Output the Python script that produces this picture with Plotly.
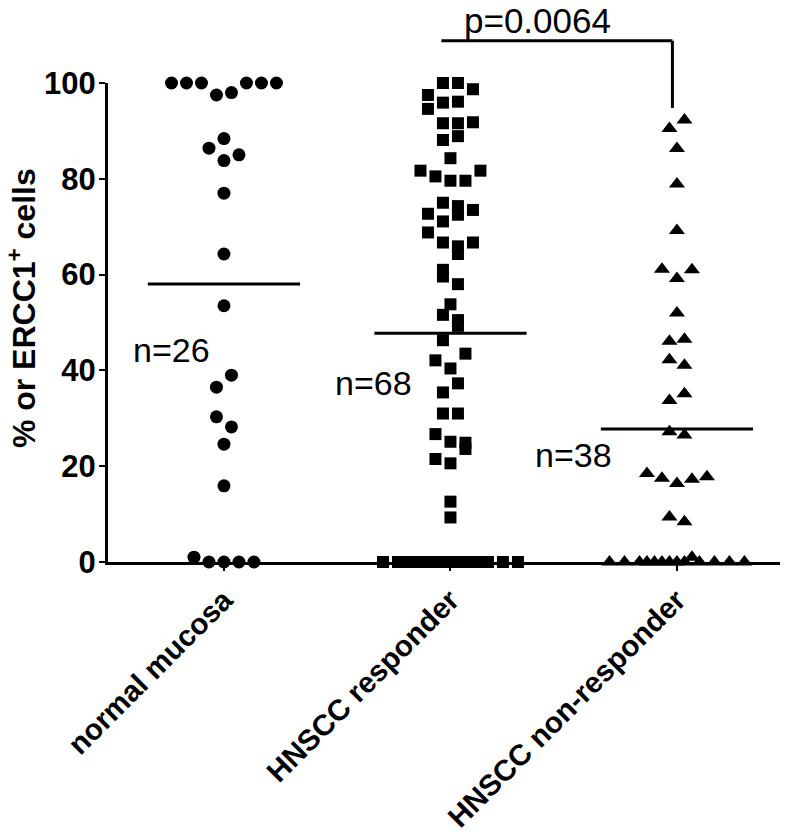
import numpy as np
import plotly.graph_objects as go

categories = ["normal mucosa", "HNSCC responder", "HNSCC non-responder"]
n_labels = ["n=26", "n=68", "n=38"]
y_ticks = [0, 20, 40, 60, 80, 100]
p_label = "p=0.0064"

# % ERCC1+ cells per sample
normal_values = [100, 100, 100, 100, 100, 100, 97.5, 98.0, 88.4, 86.4, 85.0, 83.8,
                 77.0, 64.3, 53.5, 39.0, 36.5, 30.3, 28.2, 24.6, 15.9, 1.0,
                 0, 0, 0, 0]
responder_values = [100, 100, 98.7, 97.5, 95.9, 96.1, 94.6, 91.6, 91.6, 91.8,
                    88.1, 88.9, 84.3, 81.7, 80.5, 79.6, 79.6, 81.7, 75.0, 74.3,
                    72.5, 73.5, 72.7, 71.1, 68.8, 66.7, 65.9, 64.3, 66.7, 61.0,
                    59.6, 58.0, 53.8, 51.6, 50.5, 49.3, 46.3, 43.5, 42.1, 40.4,
                    37.3, 35.4, 31.0, 31.0, 26.7, 25.1, 24.9, 23.6, 21.5, 20.6,
                    12.6, 9.3] + [0] * 16
nonresp_values = [92.3, 90.5, 86.3, 78.9, 69.2, 61.1, 61.0, 59.2, 52.0, 46.1,
                  46.5, 42.2, 41.1, 35.1, 33.7, 27.2, 26.5, 18.5, 17.5, 16.4,
                  17.3, 17.8, 9.4, 8.4] + [0] * 9 + [1.0] + [0] * 4

# column-scatter spread, in half marker steps
normal_spread = [-7, -5, -3, 3, 5, 7, -1, 1, 0, -2, 2, 0,
                 0, 0, 0, 1, -1, -1, 1, 0, 0, -4,
                 -2, 0, 2, 4]
responder_spread = [-1, 1, 3, -3, -1, 1, -3, -1, 1, 3,
                    -1, 1, 0, -4, -2, 0, 2, 4, -1, 1,
                    1, 3, -3, -1, -3, -1, 1, 1, 3, -1,
                    -1, 1, 0, -1, 1, 1, -1, 2, -2, 0,
                    1, -1, -1, 1, -2, 0, 2, 2, -2, 0,
                    0, 0] + [-9, -7, -6, -5, -4, -3, -2, -1, 0, 1, 2, 3, 4, 5, 7, 9]
nonresp_spread = [1, -1, 0, 0, 0, -2, 2, 0, 0, -1,
                  1, -1, 1, 1, -1, -1, 1, -4, -2, 0,
                  2, 4, -1, 1] + [-9, -7, -5, -4, -3, -2, -1, 0, 1, 2, 3, 5, 7, 9]

groups = [
    (normal_values, normal_spread, "circle", 13),
    (responder_values, responder_spread, "square", 12),
    (nonresp_values, nonresp_spread, "triangle-up", 14),
]

step = 0.0331      # half marker step in axis units
half_width = 0.336  # half length of the mean bar
FONT = "Liberation Sans, Arial, sans-serif"

fig = go.Figure()

for i, (vals, spread, symbol, size) in enumerate(groups):
    x = i + np.array(spread) * step
    fig.add_trace(go.Scatter(
        x=x, y=vals, mode="markers",
        marker=dict(symbol=symbol, size=size, color="black", line=dict(width=0)),
        cliponaxis=False, hoverinfo="y",
    ))
    m = np.mean(vals)
    fig.add_trace(go.Scatter(
        x=[i - half_width, i + half_width], y=[m, m], mode="lines",
        line=dict(color="black", width=3), hoverinfo="skip",
    ))

# n labels
n_pos = [(-0.232, 44.3), (0.662, 37.4), (1.543, 22.3)]
for txt, (xx, yy) in zip(n_labels, n_pos):
    fig.add_annotation(x=xx, y=yy, xref="x", yref="y", text=txt, showarrow=False,
                       font=dict(family=FONT, size=34, color="black"))

# significance bracket
fig.add_shape(type="line", xref="x", yref="paper", x0=0.96, x1=1.98, y0=1.088, y1=1.088,
              line=dict(color="black", width=3))
fig.add_shape(type="line", xref="x", yref="paper", x0=1.98, x1=1.98, y0=1.088, y1=0.948,
              line=dict(color="black", width=3))
fig.add_annotation(x=1.386, y=1.131, xref="x", yref="paper", text=p_label, showarrow=False,
                   xanchor="center", yanchor="middle",
                   font=dict(family=FONT, size=35, color="black"))

# y axis title
fig.add_annotation(x=-0.128, y=0.53, xref="paper", yref="paper",
                   xanchor="center", yanchor="middle",
                   text="% or ERCC1<sup>+</sup> cells", textangle=-90, showarrow=False,
                   font=dict(family=FONT, size=32, weight="bold", color="black"))

fig.update_layout(
    width=792, height=835,
    margin=dict(l=108, r=12, t=83, b=273, autoexpand=False),
    plot_bgcolor="white", paper_bgcolor="white",
    showlegend=False,
    font=dict(family=FONT, color="black"),
)
fig.update_xaxes(
    range=[-0.512, 2.455], tickvals=[0, 1, 2], ticktext=categories,
    tickangle=-45, ticks="outside", ticklen=6, tickwidth=2, tickcolor="black",
    showline=True, linewidth=3, linecolor="black", showgrid=False, zeroline=False,
    automargin=False,
    tickfont=dict(family=FONT, size=29.5, weight="bold", color="black"),
)
fig.update_yaxes(
    range=[0, 100], tickvals=y_ticks, ticks="outside", ticklen=6, tickwidth=2,
    tickcolor="black", showline=True, linewidth=3, linecolor="black",
    showgrid=False, zeroline=False, automargin=False, ticklabelstandoff=-3,
    tickfont=dict(family=FONT, size=31, weight="bold", color="black"),
)

fig.write_html("out.html", config={"displayModeBar": False},
               post_script="document.body.style.margin = '0';")
